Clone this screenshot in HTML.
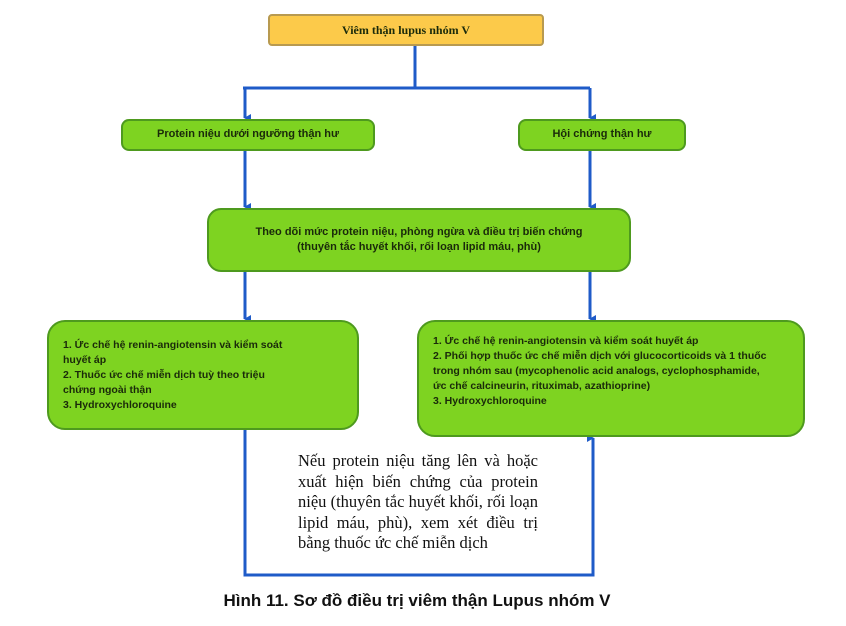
<!DOCTYPE html>
<html><head><meta charset="utf-8"><style>
body{margin:0;width:846px;height:626px;background:#fff;position:relative;overflow:hidden;font-family:"Liberation Sans",sans-serif}
.b{position:absolute;box-sizing:border-box;background:#7ed321;border:2px solid #4e9a1e;border-radius:8px;font-weight:bold;font-size:10.5px;color:#1a2a0a;display:flex;align-items:center;justify-content:center;text-align:center;line-height:1.4}
.l{justify-content:flex-start;text-align:left;padding-left:14px;border-radius:18px;line-height:15px}
svg{position:absolute;left:0;top:0}
</style></head><body>
<svg width="846" height="626">
<defs><marker id="a" markerWidth="8" markerHeight="8" refX="4" refY="6" orient="auto" markerUnits="userSpaceOnUse"><path d="M0,0 L8,0 L4,7 z" fill="#1f5bc8"/></marker></defs>
<g stroke="#1f5bc8" stroke-width="3" fill="none">
<path d="M415,46 V88"/>
<path d="M243,88 H590"/>
<path d="M245,88 V118" marker-end="url(#a)"/>
<path d="M590,88 V118" marker-end="url(#a)"/>
<path d="M245,150 V207" marker-end="url(#a)"/>
<path d="M590,150 V207" marker-end="url(#a)"/>
<path d="M245,272 V319" marker-end="url(#a)"/>
<path d="M590,272 V319" marker-end="url(#a)"/>
<path d="M245,430 V575 H593 V438" marker-end="url(#a)"/>
</g></svg>
<div class="b" style="left:268px;top:14px;width:276px;height:32px;background:#fcca4a;border-color:#b89a50;border-radius:4px;font-family:'Liberation Serif',serif;font-size:12px">Viêm thận lupus nhóm V</div>
<div class="b" style="left:121px;top:119px;width:254px;height:32px;font-size:11px">Protein niệu dưới ngưỡng thận hư</div>
<div class="b" style="left:518px;top:119px;width:168px;height:32px;font-size:11px">Hội chứng thận hư</div>
<div class="b" style="left:207px;top:208px;width:424px;height:64px;border-radius:14px;font-size:11px">Theo dõi mức protein niệu, phòng ngừa và điều trị biến chứng<br>(thuyên tắc huyết khối, rối loạn lipid máu, phù)</div>
<div class="b l" style="left:47px;top:320px;width:312px;height:110px;padding-right:60px">1. Ức chế hệ renin-angiotensin và kiểm soát huyết áp<br>2. Thuốc ức chế miễn dịch tuỳ theo triệu chứng ngoài thận<br>3. Hydroxychloroquine</div>
<div class="b l" style="left:417px;top:320px;width:388px;height:117px;padding-right:30px;align-items:flex-start;padding-top:12px">1. Ức chế hệ renin-angiotensin và kiểm soát huyết áp<br>2. Phối hợp thuốc ức chế miễn dịch với glucocorticoids và 1 thuốc trong nhóm sau (mycophenolic acid analogs, cyclophosphamide, ức chế calcineurin, rituximab, azathioprine)<br>3. Hydroxychloroquine</div>
<div style="position:absolute;left:298px;top:451px;width:240px;font-family:'Liberation Serif',serif;font-size:16.5px;line-height:20.5px;text-align:justify;color:#111">Nếu protein niệu tăng lên và hoặc xuất hiện biến chứng của protein niệu (thuyên tắc huyết khối, rối loạn lipid máu, phù), xem xét điều trị bằng thuốc ức chế miễn dịch</div>
<div style="position:absolute;left:0;width:846px;top:591px;text-align:center;font-weight:bold;font-size:17px;color:#111;padding-right:12px;box-sizing:border-box">Hình 11. Sơ đồ điều trị viêm thận Lupus nhóm V</div>
</body></html>
